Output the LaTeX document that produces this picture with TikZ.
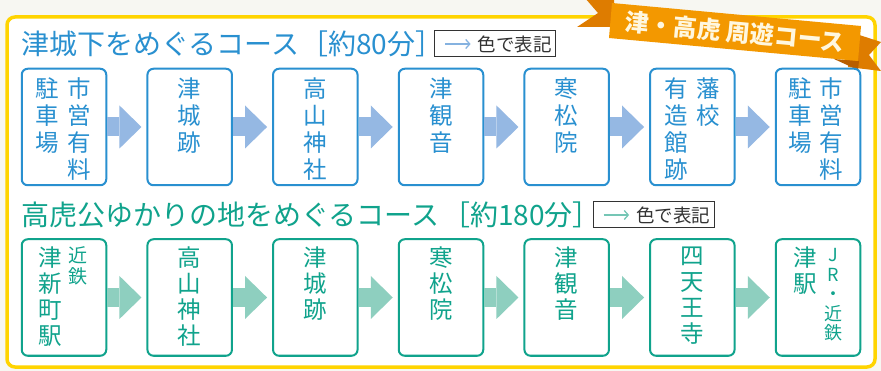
\documentclass[tikz,border=0pt]{standalone}
\usepackage{fontspec}
\newfontfamily\cjk{Noto Sans CJK JP}
\usetikzlibrary{arrows.meta}
\definecolor{pageBg}{HTML}{F7F7F2}
\definecolor{frameY}{HTML}{FFD400}
\definecolor{bandO}{HTML}{F39800}
\definecolor{bandD}{HTML}{DE7C00}
\definecolor{bandF}{HTML}{B85E00}
\definecolor{bandTxt}{HTML}{FFF7DF}
\definecolor{tsuBlue}{HTML}{2990D0}
\definecolor{tsuBlueL}{HTML}{95B8E3}
\definecolor{tsuTeal}{HTML}{10A38C}
\definecolor{tsuTealL}{HTML}{8ECFBF}
\definecolor{legGray}{HTML}{333333}
\tikzset{
  stopA/.style={draw=tsuBlue, line width=2pt, rounded corners=6pt, fill=white,
    minimum width=84.5pt, minimum height=116.5pt, inner sep=0pt},
  stopB/.style={stopA, draw=tsuTeal},
  fatA/.style={draw=tsuBlueL, line width=19pt, shorten >=5pt,
    -{Triangle[length=22pt,width=43pt,line width=0pt]}},
  fatB/.style={fatA, draw=tsuTealL},
  vtA/.style={text=tsuBlue, font=\cjk\fontsize{23.5}{27}\selectfont,
    align=center, inner sep=0pt, anchor=north},
  vtB/.style={vtA, text=tsuTeal, font=\cjk\fontsize{23.5}{26}\selectfont},
  vsB/.style={vtB, font=\cjk\fontsize{19}{21}\selectfont},
  vjB/.style={vtB, font=\cjk\fontsize{18}{19.5}\selectfont},
  ttl/.style={font=\cjk\fontsize{28}{30}\selectfont, inner sep=0pt, anchor=west},
  legbox/.style={draw=legGray, line width=1pt, fill=white,
    minimum width=121pt, minimum height=26pt, inner sep=0pt},
  legtxt/.style={font=\cjk\fontsize{18.5}{20}\selectfont, text=legGray,
    inner sep=0pt, anchor=east},
  legarr/.style={line width=1.3pt, shorten >=7pt,
    -{Straight Barb[length=4pt,width=9pt]}},
}
\begin{document}
\begin{tikzpicture}[x=1pt,y=-1pt]
\useasboundingbox (0,0) rectangle (881,371);
\fill[pageBg] (0,0) rectangle (881,371);
\draw[frameY, line width=3.5pt, fill=white, rounded corners=8pt] (7,17) rectangle (875,367);

% ribbon
\fill[bandD] (585,-2) -- (614,-2) -- (614,27) -- (577,27) -- (598,13) -- cycle;
\fill[bandD] (850,32) -- (881,42) -- (869,55) -- (881,71) -- (848,67) -- cycle;
\fill[bandF] (834,59) -- (859,61) -- (858,70) -- cycle;
\fill[bandO] (612,3) -- (861,26) -- (858,61) -- (609,38) -- cycle;
\node[rotate=-5.3, text=bandTxt, font=\cjk\bfseries\fontsize{24}{26}\selectfont, inner sep=0pt]
  (band) at (735,32) {津・高虎 周遊コース};

% course 1
\node[ttl, text=tsuBlue] (t1) at (21,44) {津城下をめぐるコース\hspace{1pt}［約80分］};
\node[legbox] (l1) at (495,44) {};
\node[legtxt] (l1t) at ([xshift=-4pt]l1.east) {色で表記};
\coordinate (l1s) at ([xshift=11pt]l1.west);
\draw[legarr, draw=tsuBlueL!85!tsuBlue] (l1s) -- (l1t);

\node[stopA] (a1) at (64,127) {};
\node[stopA] (a2) at (189.7,127) {};
\node[stopA] (a3) at (315.3,127) {};
\node[stopA] (a4) at (441,127) {};
\node[stopA] (a5) at (566.7,127) {};
\node[stopA] (a6) at (692.3,127) {};
\node[stopA] (a7) at (818,127) {};
\draw[fatA] (a1) -- (a2);
\draw[fatA] (a2) -- (a3);
\draw[fatA] (a3) -- (a4);
\draw[fatA] (a4) -- (a5);
\draw[fatA] (a5) -- (a6);
\draw[fatA] (a6) -- (a7);
\node[vtA] (a1l) at ([xshift=-16.5pt,yshift=-9.5pt]a1.north) {駐\\車\\場};
\node[vtA] (a1r) at ([xshift=15pt,yshift=-9.5pt]a1.north) {市\\営\\有\\料};
\node[vtA] (a2t) at ([yshift=-9.5pt]a2.north) {津\\城\\跡};
\node[vtA] (a3t) at ([yshift=-9.5pt]a3.north) {高\\山\\神\\社};
\node[vtA] (a4t) at ([yshift=-9.5pt]a4.north) {津\\観\\音};
\node[vtA] (a5t) at ([yshift=-9.5pt]a5.north) {寒\\松\\院};
\node[vtA] (a6l) at ([xshift=-16.5pt,yshift=-9.5pt]a6.north) {有\\造\\館\\跡};
\node[vtA] (a6r) at ([xshift=15.5pt,yshift=-9.5pt]a6.north) {藩\\校};
\node[vtA] (a7l) at ([xshift=-17.5pt,yshift=-9.5pt]a7.north) {駐\\車\\場};
\node[vtA] (a7r) at ([xshift=13.5pt,yshift=-9.5pt]a7.north) {市\\営\\有\\料};

% course 2
\node[ttl, text=tsuTeal] (t2) at (21,215) {高虎公ゆかりの地をめぐるコース\hspace{3pt}［約180分］};
\node[legbox] (l2) at (653.5,215) {};
\node[legtxt] (l2t) at ([xshift=-4pt]l2.east) {色で表記};
\coordinate (l2s) at ([xshift=11pt]l2.west);
\draw[legarr, draw=tsuTealL!80!tsuTeal] (l2s) -- (l2t);

\node[stopB] (b1) at (64,297.5) {};
\node[stopB] (b2) at (189.7,297.5) {};
\node[stopB] (b3) at (315.3,297.5) {};
\node[stopB] (b4) at (441,297.5) {};
\node[stopB] (b5) at (566.7,297.5) {};
\node[stopB] (b6) at (692.3,297.5) {};
\node[stopB] (b7) at (818,297.5) {};
\draw[fatB] (b1) -- (b2);
\draw[fatB] (b2) -- (b3);
\draw[fatB] (b3) -- (b4);
\draw[fatB] (b4) -- (b5);
\draw[fatB] (b5) -- (b6);
\draw[fatB] (b6) -- (b7);
\node[vtB] (b1l) at ([xshift=-14pt,yshift=-8pt]b1.north) {津\\新\\町\\駅};
\node[vsB] (b1r) at ([xshift=14pt,yshift=-8pt]b1.north) {近\\鉄};
\node[vtB] (b2t) at ([yshift=-8pt]b2.north) {高\\山\\神\\社};
\node[vtB] (b3t) at ([yshift=-8pt]b3.north) {津\\城\\跡};
\node[vtB] (b4t) at ([yshift=-8pt]b4.north) {寒\\松\\院};
\node[vtB] (b5t) at ([yshift=-8pt]b5.north) {津\\観\\音};
\node[vtB] (b6t) at ([yshift=-8pt]b6.north) {四\\天\\王\\寺};
\node[vtB] (b7l) at ([xshift=-12.5pt,yshift=-8pt]b7.north) {津\\駅};
\node[vjB] (b7r) at ([xshift=15pt,yshift=-10pt]b7.north) {J\\R\\・\\近\\鉄};
\end{tikzpicture}
\end{document}
